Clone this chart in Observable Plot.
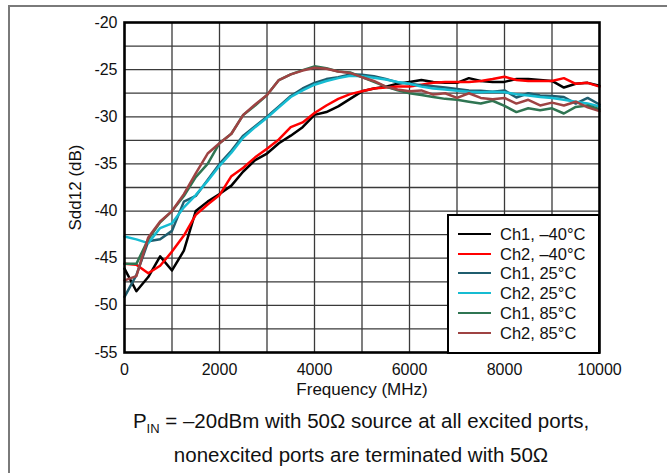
<!DOCTYPE html>
<html>
<head>
<meta charset="utf-8">
<script src="https://cdn.jsdelivr.net/npm/d3@7"></script>
<script src="https://cdn.jsdelivr.net/npm/@observablehq/plot@0.6"></script>
<style>
  html, body { margin: 0; padding: 0; background: #fff; }
  #wrap { position: relative; width: 667px; height: 473px; overflow: hidden; font-family: "Liberation Sans", Arial, sans-serif; }
  #outer { position: absolute; left: 8px; top: 5px; width: 700px; height: 500px; border-top: 2px solid #7a7a7a; border-left: 2px solid #7a7a7a; box-sizing: border-box; }
  #chart { position: absolute; left: 0; top: 0; }
  #legend { position: absolute; left: 447px; top: 214px; width: 153px; height: 140px; box-sizing: border-box; border: 2.5px solid #000; background: #fff; }
  .row { position: absolute; left: 0; height: 20px; }
  .sw { position: absolute; left: 9px; width: 33px; height: 0; border-top: 2.5px solid #000; top: 9px; }
  .lt { position: absolute; left: 51px; top: 0; font-size: 16.5px; line-height: 20px; white-space: nowrap; color: #111; }
  .cap { position: absolute; left: 0; width: 722px; text-align: center; font-size: 20.5px; color: #111; white-space: nowrap; }
</style>
</head>
<body>
<div id="wrap">
  <div id="outer"></div>
  <div id="chart"></div>
  <div id="legend"></div>
  <div class="cap" style="top:409px">P<sub style="font-size:13px">IN</sub> = –20dBm with 50Ω source at all excited ports,</div>
  <div class="cap" style="top:443px">nonexcited ports are terminated with 50Ω</div>
</div>
<script>
const freq = [0,250,500,750,1000,1250,1500,1750,2000,2250,2500,2750,3000,3250,3500,3750,4000,4250,4500,4750,5000,5250,5500,5750,6000,6250,6500,6750,7000,7250,7500,7750,8000,8250,8500,8750,9000,9250,9500,9750,10000];

const ch1_m40 = [-46.1,-48.5,-47.0,-44.8,-46.3,-44.2,-40.0,-39.0,-38.2,-37.3,-35.8,-34.6,-33.9,-32.8,-32.0,-31.1,-29.8,-29.5,-28.9,-28.1,-27.3,-27.0,-26.8,-26.5,-26.3,-26.1,-26.3,-26.4,-26.4,-25.9,-26.2,-26.3,-26.3,-26.0,-26.0,-26.1,-26.2,-26.9,-26.5,-26.4,-26.7];
const ch2_m40 = [-45.6,-45.7,-46.6,-45.8,-44.3,-42.6,-40.4,-39.3,-38.3,-36.3,-35.4,-34.3,-33.4,-32.4,-31.1,-30.6,-29.6,-28.8,-28.1,-27.6,-27.3,-27.0,-26.9,-26.8,-26.8,-26.6,-26.4,-26.3,-26.3,-26.3,-26.2,-26.0,-25.75,-26.1,-26.2,-26.2,-26.2,-25.9,-26.5,-26.4,-26.8];
const ch1_25 = [-49.1,-46.8,-43.2,-43.0,-42.1,-39.0,-38.4,-36.7,-35.0,-33.6,-32.0,-31.0,-30.0,-28.9,-27.8,-27.0,-26.4,-26.0,-25.8,-25.5,-25.55,-25.7,-26.0,-26.35,-26.5,-26.65,-26.75,-26.9,-27.05,-27.2,-27.25,-27.35,-27.2,-27.95,-27.5,-27.75,-27.8,-27.9,-28.6,-28.0,-28.7];
const ch2_25 = [-42.7,-43.0,-43.4,-41.8,-41.3,-39.6,-38.3,-36.8,-35.2,-33.8,-32.2,-31.1,-30.1,-29.0,-27.9,-27.2,-26.6,-26.2,-25.9,-25.65,-25.7,-25.85,-26.05,-26.3,-26.5,-26.8,-27.0,-27.1,-27.25,-27.35,-27.4,-27.35,-27.4,-27.6,-27.75,-27.9,-28.0,-28.2,-28.4,-28.6,-28.9];
const ch1_85 = [-45.6,-45.6,-43.0,-41.2,-40.0,-38.4,-36.4,-35.0,-32.8,-31.8,-29.8,-28.8,-27.7,-26.1,-25.5,-25.05,-24.65,-24.85,-25.2,-25.3,-25.8,-26.3,-26.8,-27.2,-27.5,-27.7,-27.9,-28.1,-28.2,-28.4,-28.6,-28.3,-28.85,-29.5,-29.1,-29.3,-29.1,-29.65,-28.95,-28.8,-29.2];
const ch2_85 = [-47.35,-46.9,-42.8,-41.1,-40.0,-38.2,-36.0,-33.9,-32.8,-31.8,-29.8,-28.7,-27.7,-26.1,-25.5,-25.1,-24.8,-24.9,-25.2,-25.35,-25.8,-26.2,-26.8,-27.1,-27.3,-27.2,-27.65,-27.5,-28.0,-27.5,-28.0,-28.15,-28.0,-28.6,-28.2,-28.8,-28.5,-28.8,-28.4,-29.0,-29.4];

const seriesNames = ["Ch1, –40°C","Ch2, –40°C","Ch1, 25°C","Ch2, 25°C","Ch1, 85°C","Ch2, 85°C"];
const seriesColors = ["#000000","#ff0000","#1f5d6e","#17bcd2","#2f7552","#9e4343"];
const seriesValues = [ch1_m40, ch2_m40, ch1_25, ch2_25, ch1_85, ch2_85];

const xTicks = [0,2000,4000,6000,8000,10000];
const yTicks = [-20,-25,-30,-35,-40,-45,-50,-55];
const xGrid = d3.range(1000, 10000, 1000);
const yGrid = d3.range(-52.5, -20, 2.5);

const data = seriesNames.flatMap((name, s) => freq.map((f, i) => ({f, v: seriesValues[s][i], name})));

const chart = Plot.plot({
  width: 667,
  height: 400,
  marginLeft: 124,
  marginRight: 68,
  marginTop: 22,
  marginBottom: 48,
  style: {fontFamily: "'Liberation Sans', Arial, sans-serif", fontSize: "16px", color: "#111", background: "transparent"},
  x: {domain: [0, 10000], label: null},
  y: {domain: [-55, -20], label: null},
  color: {domain: seriesNames, range: seriesColors},
  marks: [
    Plot.ruleX(xGrid, {stroke: "#3a3a3a", strokeWidth: 1.3}),
    Plot.ruleY(yGrid, {stroke: "#3a3a3a", strokeWidth: 1.3}),
    Plot.line(data, {x: "f", y: "v", z: "name", stroke: "name", strokeWidth: 2.5, curve: "linear"}),
    Plot.frame({stroke: "#000", strokeWidth: 2.6}),
    Plot.axisX({ticks: xTicks, tickSize: 0, tickPadding: 11, fontSize: 16, tickFormat: d => String(d), label: null}),
    Plot.axisX({ticks: [], tickSize: 0, fontSize: 17, label: "Frequency (MHz)", labelAnchor: "center", labelArrow: "none", labelOffset: 42}),
    Plot.axisY({ticks: yTicks, tickSize: 0, tickPadding: 7, fontSize: 16, tickFormat: d => String(d), label: null}),
    Plot.axisY({ticks: [], tickSize: 0, fontSize: 17, label: "Sdd12 (dB)", labelAnchor: "center", labelArrow: "none", labelOffset: 56})
  ]
});
document.getElementById("chart").appendChild(chart);

const legend = document.getElementById("legend");
seriesNames.forEach((name, i) => {
  const row = document.createElement("div");
  row.className = "row";
  row.style.top = (8 + i * 19.7) + "px";
  const sw = document.createElement("div");
  sw.className = "sw";
  sw.style.borderTopColor = seriesColors[i];
  const lt = document.createElement("div");
  lt.className = "lt";
  lt.textContent = name;
  row.appendChild(sw);
  row.appendChild(lt);
  legend.appendChild(row);
});
</script>
</body>
</html>
